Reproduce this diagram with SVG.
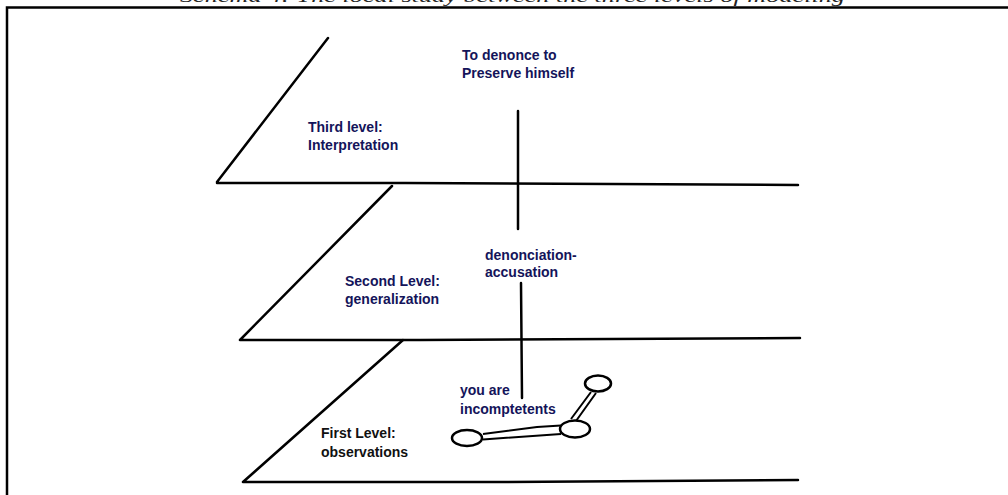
<svg xmlns="http://www.w3.org/2000/svg" width="1008" height="495" viewBox="0 0 1008 495">
<style>
.ln{stroke:#000;stroke-width:2.5;fill:none;stroke-linecap:round}
.frame{stroke:#000;stroke-width:2.5;fill:none}
.lbl{font-family:"Liberation Sans",Arial,sans-serif;font-size:14px;font-weight:bold;fill:#14145a}
.blk{fill:#111}
.title{font-family:"Liberation Serif","Times New Roman",serif;font-size:17px;font-style:italic;fill:#222}
.node{stroke:#000;stroke-width:2.5;fill:#fff}
.dbl{stroke:#000;stroke-width:2;fill:none}
</style>
<rect width="1008" height="495" fill="#fff"/>
<text class="title" x="180" y="1.5" textLength="665" lengthAdjust="spacingAndGlyphs">Schema 4: The local study between the three levels of modeling</text>
<path class="frame" d="M7,495 V7.5 H1008"/>
<g id="planes">
<path class="ln" d="M328,38 L217,182 M217,183 H405 L798,185"/>
<path class="ln" d="M392,186 L240,340 M240,340 H420 L800,338"/>
<path class="ln" d="M403,340 L243,482 M243,482 H500 L798,480"/>
</g>
<g id="connectors">
<path class="ln" d="M518,111 V229"/>
<path class="ln" d="M521,283 L522,398"/>
<path class="dbl" d="M483,434 L537,427 L561,425.5 M483,439.5 L561,434"/>
<path class="dbl" d="M571,419 L591,392 M576,421 L596,393"/>
</g>
<g id="level3">
<text class="lbl" x="308" y="132">Third level:</text>
<text class="lbl" x="308" y="150">Interpretation</text>
</g>
<g id="level3-node">
<text class="lbl" x="462" y="60">To denonce to</text>
<text class="lbl" x="462" y="78">Preserve himself</text>
</g>
<g id="level2">
<text class="lbl" x="345" y="286">Second Level:</text>
<text class="lbl" x="345" y="304">generalization</text>
</g>
<g id="level2-node">
<text class="lbl" x="485" y="260">denonciation-</text>
<text class="lbl" x="485" y="277">accusation</text>
</g>
<g id="level1">
<text class="lbl blk" x="321" y="438">First Level:</text>
<text class="lbl blk" x="321" y="457">observations</text>
</g>
<g id="level1-node">
<text class="lbl" x="460" y="395">you are</text>
<text class="lbl" x="460" y="414">incomptetents</text>
</g>
<g id="obs-a"><ellipse class="node" cx="467" cy="438" rx="15" ry="8"/></g>
<g id="obs-b"><ellipse class="node" cx="575" cy="429" rx="15" ry="8.5"/></g>
<g id="obs-c"><ellipse class="node" cx="598" cy="383.5" rx="13" ry="8"/></g>
</svg>
